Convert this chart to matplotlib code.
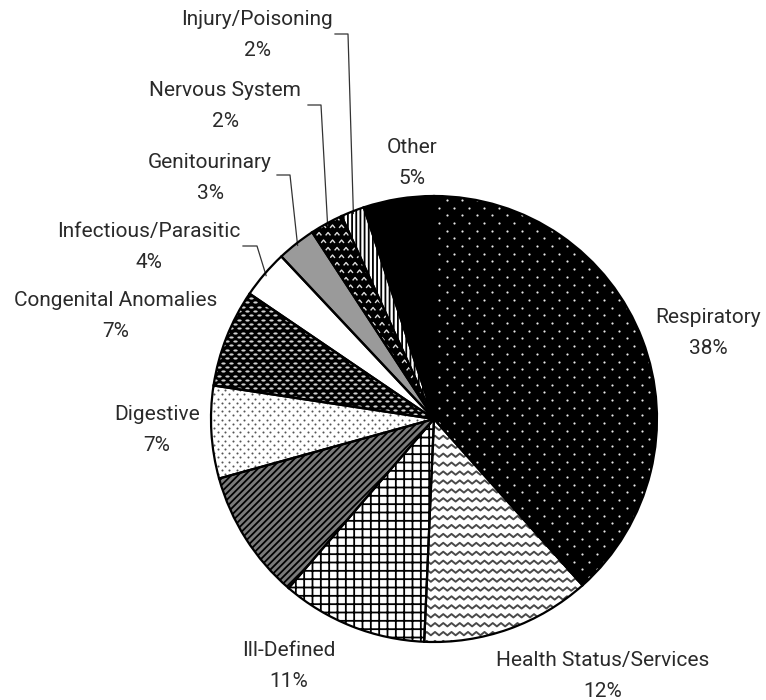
import numpy as np
import matplotlib
matplotlib.use('Agg')
import matplotlib.pyplot as plt
from matplotlib.lines import Line2D
from matplotlib.path import Path

# Slice data (clockwise from 12 o'clock)
categories = ['Respiratory', 'Health Status/Services', 'Ill-Defined', '',
              'Digestive', 'Congenital Anomalies', 'Infectious/Parasitic',
              'Genitourinary', 'Nervous System', 'Injury/Poisoning', 'Other']
shares = [38.4, 12.3, 10.6, 9.4, 6.7, 7.1, 3.5, 2.8, 2.4, 1.7, 5.1]

# Fill styles per slice
fills = ['black', 'white', 'white', '#7a7a7a', 'white', 'black',
         'white', '#9a9a9a', 'black', 'white', 'black']
hatches = [None, None, '++', '/////', None, None, None, None, None, '||||', None]

# label centres in pixels (x, y from top-left)
label_pos = [(708, 333), (603, 676), (289, 666), None, (157, 430),
             (116, 316), (149, 247), (210, 178), (225, 106), (257, 35),
             (412, 163)]
# leader line start/corner for the small slices
leaders = {6: ((243, 246), (257, 246)),
           7: ((277, 175), (290, 175)),
           8: ((308, 105), (321, 105)),
           9: ((335, 34), (348, 34))}

W, H = 766, 700
CX, CY, R = 434, 419, 223


def to_data(px, py):
    return (px - CX) / R, (CY - py) / R


def lattice(dx_px, dy_px):
    # staggered dot lattice covering the unit disc (texture only)
    dx, dy = dx_px / R, dy_px / R
    pts = []
    for k, y in enumerate(np.arange(-1.02, 1.03, dy)):
        xs = np.arange(-1.02, 1.03, dx) + (dx / 2 if k % 2 else 0)
        pts.append(np.column_stack([xs, np.full_like(xs, y)]))
    return np.vstack(pts)


def texture(wedge, dx_px, dy_px, **kw):
    pts = lattice(dx_px, dy_px)
    sc = ax.scatter(pts[:, 0], pts[:, 1], linewidths=0, zorder=2, **kw)
    sc.set_clip_path(wedge)
    return sc


plt.rcParams['font.family'] = ['Roboto', 'DejaVu Sans']
plt.rcParams['hatch.linewidth'] = 1.3

fig = plt.figure(figsize=(W / 100, H / 100), dpi=100)
ax = fig.add_axes([0, 0, 1, 1])

wedges, _ = ax.pie(shares, startangle=90, counterclock=False,
                   colors=fills, wedgeprops=dict(linewidth=0))
for w, h in zip(wedges, hatches):
    w.set_edgecolor('black')
    if h:
        w.set_hatch(h)

oval = Path(np.column_stack([np.cos(np.linspace(0, 2 * np.pi, 30)),
                             0.5 * np.sin(np.linspace(0, 2 * np.pi, 30))]))
chevron = Path([(-1, -0.6), (0, 0.6), (1, -0.6)])

texture(wedges[0], 15, 7.7, s=2.5, color='#e8e8e8')          # Respiratory
texture(wedges[4], 7.5, 4.2, s=2.2, color='#555555')         # Digestive
texture(wedges[5], 8, 4.3, s=10, marker=oval, color='#d0d0d0')  # Congenital
sc = ax.scatter(*lattice(9, 7.5).T, s=12, marker=chevron, facecolors='none',
                edgecolors='#dddddd', linewidths=1.0, zorder=2)   # Nervous
sc.set_clip_path(wedges[8])

# wavy texture for Health Status/Services
xs = np.arange(-1.05, 1.06, 0.0185)
for y0 in np.arange(-1.05, 1.05, 0.04):
    yy = y0 + 0.015 * (np.arange(len(xs)) % 2)
    ln = Line2D(xs, yy, color='#4a4a4a', lw=1.4, zorder=2)
    ax.add_line(ln)
    ln.set_clip_path(wedges[1])

# outlines on top
ax.pie(shares, startangle=90, counterclock=False,
       wedgeprops=dict(facecolor='none', edgecolor='black', linewidth=1.6,
                       zorder=3))

# labels
for i, (name, val) in enumerate(zip(categories, shares)):
    if label_pos[i] is None:
        continue
    x, y = to_data(*label_pos[i])
    ax.text(x, y, f'{name}\n{val:.0f}%', ha='center', va='center',
            multialignment='center', fontsize=15,
            linespacing=1.75, color='#2a2a2a')

# leader lines
for i, (p0, p1) in leaders.items():
    w = wedges[i]
    mid = np.deg2rad((w.theta1 + w.theta2) / 2)
    x0, y0 = to_data(*p0)
    x1, y1 = to_data(*p1)
    ax.plot([x0, x1, 0.99 * np.cos(mid)], [y0, y1, 0.99 * np.sin(mid)],
            color='#333333', lw=0.9)

ax.set_xlim(-CX / R, (W - CX) / R)
ax.set_ylim((CY - H) / R, CY / R)
ax.set_aspect('auto')
ax.axis('off')

fig.savefig('out.png', dpi=100)
